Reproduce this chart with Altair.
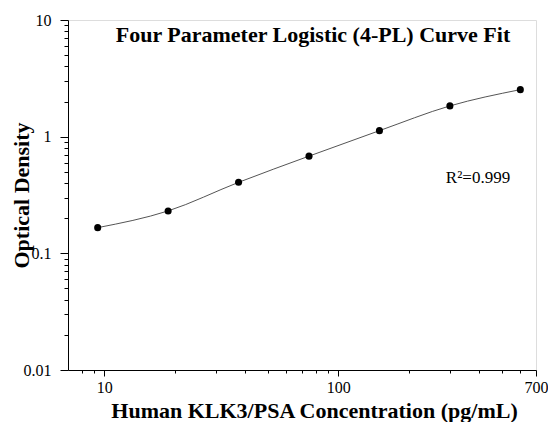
import altair as alt
import pandas as pd

# ---- data ----
conc = [9.375, 18.75, 37.5, 75, 150, 300, 600]
od = [0.166, 0.231, 0.406, 0.681, 1.126, 1.835, 2.53]

x_major = [10, 100, 700]
x_minor = [8, 9, 20, 30, 40, 50, 60, 70, 80, 90, 200, 300, 400, 500, 600]
y_major = [0.01, 0.1, 1, 10]
y_minor = [0.02, 0.03, 0.04, 0.05, 0.06, 0.07, 0.08, 0.09,
           0.2, 0.3, 0.4, 0.5, 0.6, 0.7, 0.8, 0.9,
           2, 3, 4, 5, 6, 7, 8, 9]

title_text = "Four Parameter Logistic (4-PL) Curve Fit"
r2_text = "R\u00b2=0.999"
x_title = "Human KLK3/PSA Concentration (pg/mL)"
y_title = "Optical Density"

df = pd.DataFrame({"conc": conc, "od": od})

FONT = "Liberation Serif"
W, H = 468, 350

xs = alt.Scale(type="log", domain=[7, 700], nice=False)
ys = alt.Scale(type="log", domain=[0.01, 10], nice=False)

base = alt.Chart(df)

# curve layer carries the minor-tick axes
curve = base.mark_line(color="#555555", strokeWidth=1, interpolate="monotone").encode(
    x=alt.X("conc:Q", scale=xs,
            axis=alt.Axis(orient="bottom", values=x_minor, tickSize=3, labels=False,
                          title=None, domain=False, grid=False, tickColor="black")),
    y=alt.Y("od:Q", scale=ys,
            axis=alt.Axis(orient="left", values=y_minor, tickSize=4, labels=False,
                          title=None, domain=False, grid=False, tickColor="black")),
)

# points carry the major axes
points = base.mark_circle(size=50, color="black", opacity=1).encode(
    x=alt.X("conc:Q", scale=xs,
            axis=alt.Axis(orient="bottom", values=x_major, tickSize=6, format="~g",
                          labelFont=FONT, labelFontSize=16, labelColor="black",
                          labelPadding=3, labelFlush=False,
                          title=x_title, titleFont=FONT, titleFontSize=22,
                          titleFontWeight="bold", titleColor="black",
                          titleBaseline="alphabetic", titleX=246, titleY=47,
                          domainColor="black", tickColor="black", grid=False)),
    y=alt.Y("od:Q", scale=ys,
            axis=alt.Axis(orient="left", values=y_major, tickSize=8, format="~g",
                          labelFont=FONT, labelFontSize=16, labelColor="black",
                          labelPadding=9, labelFlush=False,
                          title=y_title, titleFont=FONT, titleFontSize=22,
                          titleFontWeight="bold", titleColor="black",
                          titleBaseline="alphabetic", titleX=-40,
                          domainColor="black", tickColor="black", grid=False)),
)

title_mark = alt.Chart(pd.DataFrame({"t": [title_text]})).mark_text(
    font=FONT, fontSize=22, fontWeight="bold", color="black",
    align="center", baseline="alphabetic"
).encode(x=alt.value(245), y=alt.value(22), text="t:N")

r2_mark = alt.Chart(pd.DataFrame({"t": [r2_text]})).mark_text(
    font=FONT, fontSize=17, color="black", align="center", baseline="alphabetic"
).encode(x=alt.value(410), y=alt.value(163), text="t:N")

chart = alt.layer(curve, points, title_mark, r2_mark).resolve_axis(
    x="independent", y="independent"
).properties(
    width=W, height=H,
    padding={"left": 60, "top": 12, "right": 12, "bottom": 52},
    autosize=alt.AutoSizeParams(type="none"),
).configure_view(stroke=None).configure(background="white")

chart.save("out.html", embed_options={"renderer": "svg", "actions": False})
